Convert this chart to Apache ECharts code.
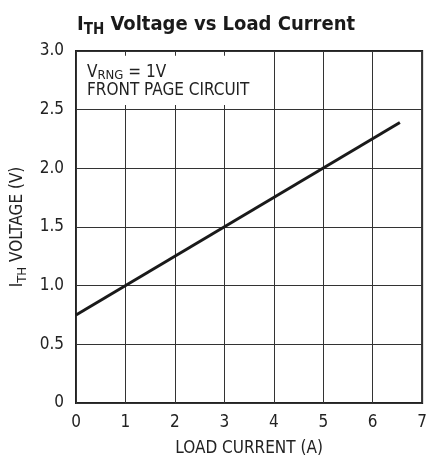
<!DOCTYPE html>
<html>
<head>
<meta charset="utf-8">
<script src="https://cdn.jsdelivr.net/npm/echarts@6/dist/echarts.min.js"></script>
<style>
	html, body { margin: 0; padding: 0; background: #fff; }
	#main { width: 430px; height: 462px; }
</style>
</head>
<body>
<div id="main"></div>
<script>
var FONT = '"Liberation Sans Narrow", "DejaVu Sans Condensed", sans-serif';

// load current (A) vs I_TH voltage (V)
var loadCurrent = [0, 6.55];
var ithVoltage = [0.75, 2.39];
// note box corners in data units
var noteX = [0.02, 3.93];
var noteY = [2.54, 2.96];

var chart = echarts.init(document.getElementById('main'), null, { renderer: 'canvas' });

var option = {
	animation: false,
	backgroundColor: '#fff',
	title: {
		show: true,
		text: '{b|I}{s|TH}{b| Voltage vs Load Current}',
		left: 72,
		top: 7,
		textStyle: {
			rich: {
				b: { fontFamily: FONT, fontWeight: 'bold', fontSize: 20, color: '#1a1a1a', lineHeight: 26, verticalAlign: 'middle' },
				s: { fontFamily: FONT, fontWeight: 'bold', fontSize: 15, color: '#1a1a1a', lineHeight: 26, verticalAlign: 'bottom' }
			}
		}
	},
	grid: {
		left: 76,
		right: 3,
		top: 51,
		bottom: 59,
		show: true,
		borderColor: '#222',
		borderWidth: 2,
		containLabel: false
	},
	xAxis: {
		type: 'value',
		min: 0,
		max: 7,
		interval: 1,
		name: 'LOAD CURRENT (A)',
		nameLocation: 'middle',
		nameGap: 37,
		nameTextStyle: { fontFamily: FONT, fontSize: 17, color: '#222' },
		axisLine: { show: false },
		axisTick: { show: false },
		axisLabel: { fontFamily: FONT, fontSize: 17, color: '#222', margin: 11 },
		splitLine: { show: true, lineStyle: { color: '#333', width: 1 } }
	},
	yAxis: {
		type: 'value',
		min: 0,
		max: 3,
		interval: 0.5,
		name: '{i|I}{s|TH}{i| VOLTAGE (V)}',
		nameLocation: 'middle',
		nameGap: 47,
		nameTextStyle: {
			rich: {
				i: { fontFamily: FONT, fontSize: 17, color: '#222', lineHeight: 22, verticalAlign: 'middle' },
				s: { fontFamily: FONT, fontSize: 13, color: '#222', lineHeight: 22, verticalAlign: 'bottom' }
			}
		},
		axisLine: { show: false },
		axisTick: { show: false },
		axisLabel: {
			fontFamily: FONT, fontSize: 17, color: '#222', margin: 12,
			formatter: function (v) { return v === 0 ? '0' : v.toFixed(1); }
		},
		splitLine: { show: true, lineStyle: { color: '#333', width: 1 } }
	},
	series: [{
		type: 'line',
		showSymbol: false,
		data: loadCurrent.map(function (x, i) { return [x, ithVoltage[i]]; }),
		lineStyle: { color: '#1a1a1a', width: 3 },
		z: 5,
		markArea: {
			silent: true,
			itemStyle: { color: '#fff', borderWidth: 0, opacity: 1 },
			label: {
				show: true,
				position: 'insideTopLeft',
				distance: 8,
				offset: [2, 0],
				formatter: '{v|V}{s|RNG}{v| = 1V}\n{v|FRONT PAGE CIRCUIT}',
				rich: {
					v: { fontFamily: FONT, fontSize: 17, color: '#222', lineHeight: 18, verticalAlign: 'middle' },
					s: { fontFamily: FONT, fontSize: 13, color: '#222', lineHeight: 18, verticalAlign: 'bottom' }
				}
			},
			data: [[{ coord: [noteX[0], noteY[1]] }, { coord: [noteX[1], noteY[0]] }]]
		}
	}]
};

chart.setOption(option);
</script>
</body>
</html>
